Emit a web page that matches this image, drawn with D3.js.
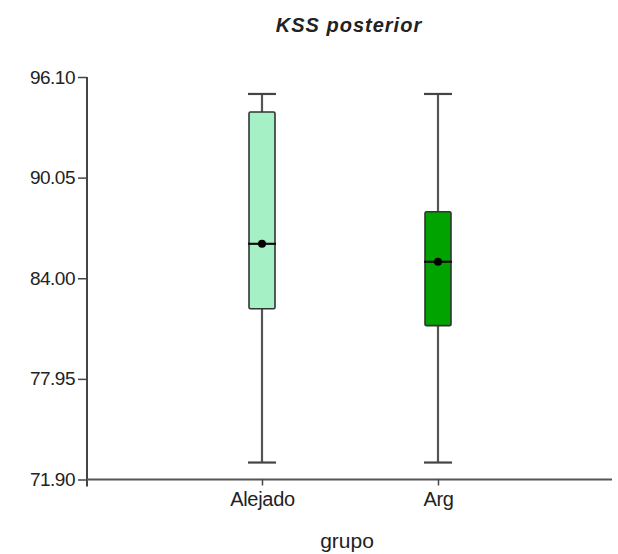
<!DOCTYPE html>
<html>
<head>
<meta charset="utf-8">
<script src="https://cdn.jsdelivr.net/npm/d3@7"></script>
<style>
body { margin: 0; background: #fff; }
text { font-family: "Liberation Sans", Arial, sans-serif; fill: #222; }
</style>
</head>
<body>
<svg id="chart" width="618" height="554"></svg>
<script>
const groups = ["Alejado", "Arg"];
const whiskerLow = [72.92, 72.92];
const q1 = [82.17, 81.15];
const medians = [86.07, 84.99];
const q3 = [94.0, 88.0];
const whiskerHigh = [95.08, 95.08];
const yTicks = [71.90, 77.95, 84.00, 90.05, 96.10];
const boxColors = ["#a6f0c6", "#00a300"];

const chart = d3.select("#chart");
const margin = { left: 87, right: 6, top: 77, bottom: 74 };
const W = 618, H = 554;

const y = d3.scaleLinear()
    .domain([71.90, 96.10])
    .range([H - margin.bottom - 0.5, margin.top]);
const x = d3.scalePoint()
    .domain(groups)
    .range([262, 438]);

// y axis
const yAxis = d3.axisLeft(y).tickValues(yTicks).tickFormat(d3.format(".2f")).tickSize(9).tickSizeOuter(0).tickPadding(3);
const gy = chart.append("g").attr("transform", "translate(" + margin.left + ",0)").call(yAxis);
gy.select(".domain").remove();
gy.append("line")
    .attr("x1", 0).attr("x2", 0)
    .attr("y1", y(96.10)).attr("y2", y(71.90) + 7)
    .attr("stroke", "#444").attr("stroke-width", 2);
gy.selectAll(".tick line").attr("stroke", "#444").attr("stroke-width", 1.5);
gy.selectAll(".tick text").style("font-size", "19px").style("letter-spacing", "-0.5px").attr("fill", "#222");

// x axis
const xAxisTranslate = y(71.90);
chart.append("line")
    .attr("x1", margin.left).attr("x2", W - margin.right)
    .attr("y1", xAxisTranslate).attr("y2", xAxisTranslate)
    .attr("stroke", "#555").attr("stroke-width", 2);
const xAxis = d3.axisBottom(x).tickSize(6).tickPadding(6);
const gx = chart.append("g").attr("transform", "translate(0," + xAxisTranslate + ")").call(xAxis);
gx.select(".domain").remove();
gx.selectAll(".tick line").attr("stroke", "#444").attr("stroke-width", 1.5);
gx.selectAll(".tick text").style("font-size", "20px").style("letter-spacing", "-0.3px").attr("fill", "#222");

// boxes
const boxW = 26, capW = 28;
groups.forEach((g, i) => {
    const cx = x(g);
    chart.append("line")
        .attr("x1", cx).attr("x2", cx)
        .attr("y1", y(whiskerLow[i])).attr("y2", y(whiskerHigh[i]))
        .attr("stroke", "#555").attr("stroke-width", 2.2);
    [whiskerLow[i], whiskerHigh[i]].forEach(v => {
        chart.append("line")
            .attr("x1", cx - capW / 2).attr("x2", cx + capW / 2)
            .attr("y1", y(v)).attr("y2", y(v))
            .attr("stroke", "#444").attr("stroke-width", 2.2);
    });
    chart.append("rect")
        .attr("x", cx - boxW / 2).attr("width", boxW)
        .attr("y", y(q3[i])).attr("height", y(q1[i]) - y(q3[i]))
        .attr("fill", boxColors[i])
        .attr("stroke", "#333").attr("stroke-width", 1.6)
        .attr("rx", 1.5);
    chart.append("line")
        .attr("x1", cx - boxW / 2 - 1).attr("x2", cx + boxW / 2 + 1)
        .attr("y1", y(medians[i])).attr("y2", y(medians[i]))
        .attr("stroke", "#111").attr("stroke-width", 2.2);
    chart.append("circle")
        .attr("cx", cx).attr("cy", y(medians[i])).attr("r", 4)
        .attr("fill", "#000");
});

// title and axis label
chart.append("text")
    .attr("x", 349).attr("y", 32)
    .style("text-anchor", "middle")
    .style("font-size", "20px")
    .style("font-weight", "bold")
    .style("font-style", "italic")
    .style("letter-spacing", "1px")
    .text("KSS posterior");

chart.append("text")
    .attr("x", 347).attr("y", 548)
    .style("text-anchor", "middle")
    .style("font-size", "21px")
    .text("grupo");
</script>
</body>
</html>
